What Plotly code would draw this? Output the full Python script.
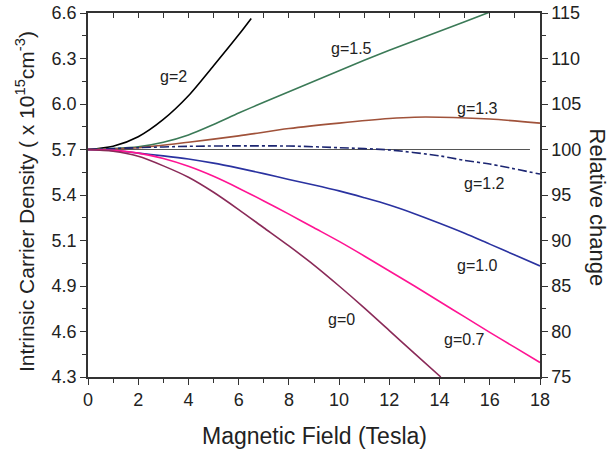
import plotly.graph_objects as go

# Data (relative change, 100 = 5.7e15 cm^-3)
g2_x = [0, 1, 2, 3, 4, 5, 6, 6.5]
g2_y = [100, 100.35, 101.4, 103.3, 105.9, 109.2, 112.6, 114.4]

g15_x = [0, 1, 2, 3, 4, 5, 6, 7, 8, 9, 10, 11, 12, 13, 14, 15, 16]
g15_y = [100, 100.1, 100.3, 100.8, 101.6, 102.75, 104.0, 105.2, 106.35, 107.5, 108.65, 109.8,
         110.9, 111.95, 113.0, 114.05, 115.1]

g13_x = [0, 2, 4, 6, 8, 10, 12, 13, 14, 16, 18]
g13_y = [100, 100.2, 100.8, 101.5, 102.3, 102.9, 103.4, 103.55, 103.55, 103.35, 102.9]

g12_x = [0, 2, 4, 6, 8, 10, 12, 14, 15, 16, 18]
g12_y = [100, 100.2, 100.35, 100.4, 100.38, 100.2, 99.95, 99.3, 98.8, 98.4, 97.3]

g10_x = [0, 1, 2, 3, 4, 5, 6, 7, 8, 9, 10, 11, 12, 13, 14, 15, 16, 17, 18]
g10_y = [100, 99.9, 99.6, 99.3, 98.95, 98.5, 97.95, 97.35, 96.7, 96.1, 95.45, 94.7, 93.9,
         92.95, 91.9, 90.8, 89.6, 88.4, 87.2]

g07_x = [0, 1, 2, 3, 4, 5, 6, 7, 8, 9, 10, 11, 12, 13, 14, 15, 16, 17, 18]
g07_y = [100, 99.9, 99.6, 99.0, 98.15, 97.05, 95.75, 94.35, 92.9, 91.4, 89.9, 88.3, 86.65,
         85.0, 83.3, 81.6, 79.9, 78.25, 76.6]

g0_x = [0, 1, 2, 3, 4, 5, 6, 7, 8, 9, 10, 11, 12, 13, 14.05]
g0_y = [100, 99.8, 99.25, 98.2, 96.95, 95.3, 93.4, 91.4, 89.4, 87.3, 85.0, 82.6, 80.1, 77.6, 75.0]

ref_x = [0, 17.6]
ref_y = [100, 100]

right_ticks = [75, 80, 85, 90, 95, 100, 105, 110, 115]
left_labels = ["4.3", "4.6", "4.9", "5.1", "5.4", "5.7", "6.0", "6.3", "6.6"]
x_ticks = [0, 2, 4, 6, 8, 10, 12, 14, 16, 18]

labels = ["g=2", "g=1.5", "g=1.3", "g=1.2", "g=1.0", "g=0.7", "g=0"]
label_x = [3.4, 10.5, 15.5, 15.8, 15.5, 15.0, 10.1]
label_y = [108.0, 111.1, 104.5, 96.3, 87.3, 79.1, 81.3]

FONT = "Arial, Liberation Sans, sans-serif"
TXT = "#222222"
AX = "#333333"

fig = go.Figure()

series = [
    (g2_x, g2_y, "#000000", "solid"),
    (g15_x, g15_y, "#3b7a57", "solid"),
    (g13_x, g13_y, "#a0523a", "solid"),
    (g12_x, g12_y, "#1c2672", "dashdot"),
    (g10_x, g10_y, "#2a32a0", "solid"),
    (g07_x, g07_y, "#ff1493", "solid"),
    (g0_x, g0_y, "#8a2a58", "solid"),
]
fig.add_trace(go.Scatter(x=ref_x, y=ref_y, mode="lines",
                         line=dict(color="#555555", width=1.2), showlegend=False))
for xs, ys, c, d in series:
    fig.add_trace(go.Scatter(x=xs, y=ys, mode="lines",
                             line=dict(color=c, width=1.6, dash=d, shape="spline", smoothing=0.8),
                             showlegend=False))

# dummy trace for secondary axes
fig.add_trace(go.Scatter(x=[0], y=[100], xaxis="x2", yaxis="y2", mode="markers",
                         marker=dict(opacity=0), showlegend=False, hoverinfo="skip"))

for t, xx, yy in zip(labels, label_x, label_y):
    fig.add_annotation(x=xx, y=yy, text=t, showarrow=False, xanchor="center", yanchor="middle",
                       font=dict(family=FONT, size=16, color=TXT))

fig.add_annotation(xref="paper", yref="paper", x=1.128, y=0.466, text="Relative change",
                   xanchor="center", yanchor="middle",
                   textangle=90, showarrow=False, font=dict(family=FONT, size=22, color=TXT))
fig.add_annotation(xref="paper", yref="paper", x=-0.139, y=0.481,
                   text="Intrinsic Carrier Density ( x 10<sup>15</sup>cm<sup>-3</sup>)",
                   xanchor="center", yanchor="middle",
                   textangle=-90, showarrow=False, font=dict(family=FONT, size=21, color=TXT))
fig.add_annotation(xref="paper", yref="paper", x=0.5, y=-0.162, text="Magnetic Field (Tesla)",
                   xanchor="center", yanchor="middle",
                   showarrow=False, font=dict(family=FONT, size=23, color=TXT))

tickfont = dict(family=FONT, size=18, color=TXT)
fig.update_layout(
    width=612, height=450,
    margin=dict(l=88, r=72, t=13, b=73),
    plot_bgcolor="white", paper_bgcolor="white",
    font=dict(family=FONT, color=TXT),
    xaxis=dict(range=[0, 18], tickvals=x_ticks, ticks="outside", ticklen=6, tickwidth=1.2,
               tickcolor=AX, showline=True, linecolor=AX, linewidth=1.5, showgrid=False,
               zeroline=False, tickfont=tickfont, automargin=False,
               minor=dict(dtick=1, ticks="outside", ticklen=4, tickcolor=AX, showgrid=False)),
    xaxis2=dict(range=[0, 18], overlaying="x", side="top", anchor="y", dtick=1, ticks="inside",
                ticklen=5, tickwidth=1.2, tickcolor=AX, showticklabels=False, showline=True,
                linecolor=AX, linewidth=1.5, showgrid=False, zeroline=False, automargin=False),
    yaxis=dict(range=[75, 115], tickvals=right_ticks, ticktext=left_labels, ticks="outside",
               ticklen=6, tickwidth=1.2, tickcolor=AX, showline=True, linecolor=AX, linewidth=1.5,
               showgrid=False, zeroline=False, tickfont=tickfont, automargin=False,
               minor=dict(dtick=2.5, tick0=75, ticks="outside", ticklen=4, tickcolor=AX, showgrid=False)),
    yaxis2=dict(range=[75, 115], overlaying="y", side="right", anchor="x", tickvals=right_ticks,
                ticks="outside", ticklen=6, tickwidth=1.2, tickcolor=AX, showline=True, linecolor=AX,
                linewidth=1.5, showgrid=False, zeroline=False, tickfont=tickfont, automargin=False,
                minor=dict(dtick=2.5, tick0=75, ticks="outside", ticklen=4, tickcolor=AX, showgrid=False)),
)

fig.write_html("out.html", config={"displayModeBar": False},
               post_script="document.body.style.margin='0px';")
